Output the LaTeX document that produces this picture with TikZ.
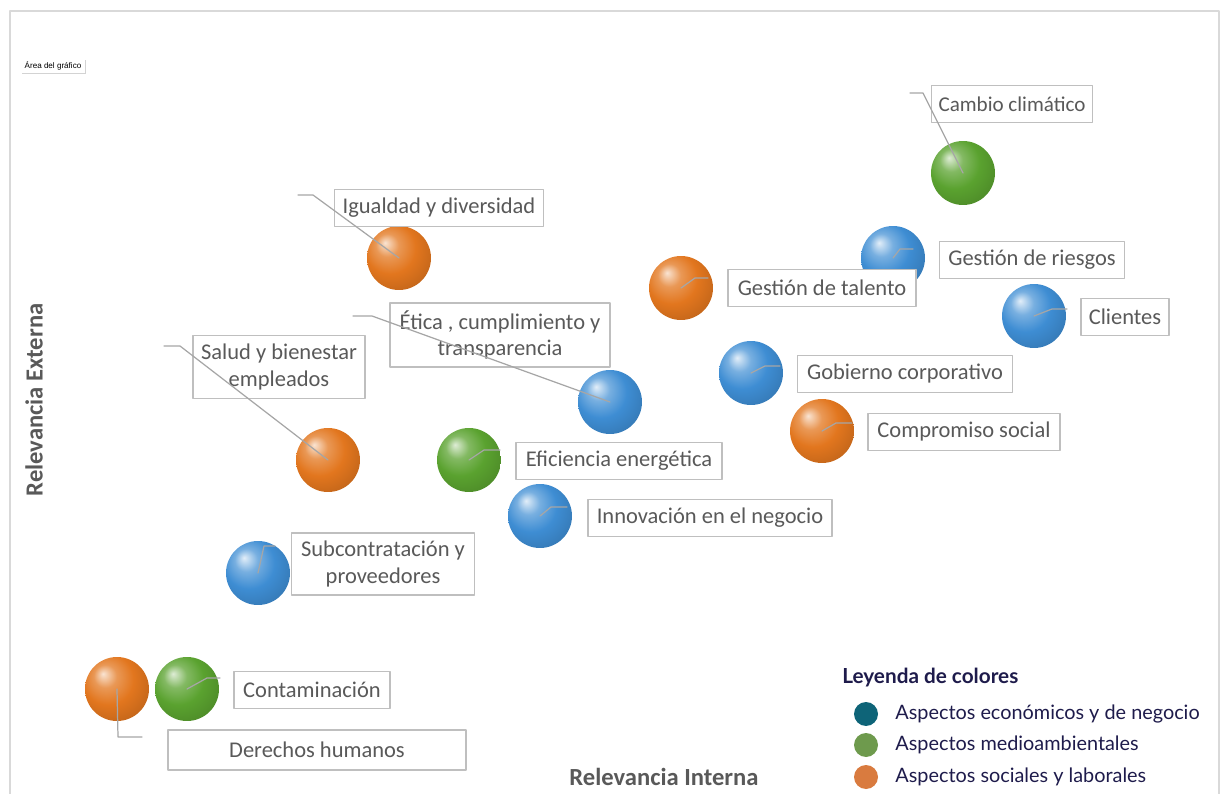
\documentclass[tikz,border=0pt]{standalone}
\usepackage{fontspec}
\setmainfont{Carlito}
\newfontfamily\leyfont{Lato}
\newfontfamily\tipfont{Liberation Sans}
\usepackage{tikz}
\usetikzlibrary{shadows}

\definecolor{naranja}{HTML}{E2761E}
\definecolor{verde}{HTML}{5AA22F}
\definecolor{azul}{HTML}{3E8DD3}
\definecolor{textogris}{HTML}{595959}
\definecolor{bordegris}{HTML}{BFBFBF}
\definecolor{lineagris}{HTML}{A6A6A6}
\definecolor{marino}{HTML}{1E1B4B}
\definecolor{leyazul}{HTML}{0E6478}
\definecolor{leyverde}{HTML}{6E9A4D}
\definecolor{leynaranja}{HTML}{D97B3F}

\pgfdeclareradialshading{bolanaranja}{\pgfpoint{-11bp}{12bp}}{color(0bp)=(naranja!20!white); color(9bp)=(naranja!75!white); color(20bp)=(naranja); color(34bp)=(naranja!85!black); color(55bp)=(naranja!55!black)}
\pgfdeclareradialshading{bolaverde}{\pgfpoint{-11bp}{12bp}}{color(0bp)=(verde!20!white); color(9bp)=(verde!75!white); color(20bp)=(verde); color(34bp)=(verde!85!black); color(55bp)=(verde!55!black)}
\pgfdeclareradialshading{bolaazul}{\pgfpoint{-11bp}{12bp}}{color(0bp)=(azul!15!white); color(9bp)=(azul!70!white); color(20bp)=(azul); color(34bp)=(azul!85!black); color(55bp)=(azul!55!black)}

\tikzset{
  esfera/.style={circle,minimum size=1.28cm,inner sep=0pt},
  naranjaball/.style={esfera,shading=bolanaranja},
  verdeball/.style={esfera,shading=bolaverde},
  azulball/.style={esfera,shading=bolaazul},
  etiqueta/.style={draw=bordegris,line width=0.6pt,fill=white,text=textogris,
    font=\fontsize{12.8}{15.2}\selectfont,align=center,inner ysep=0pt,inner xsep=4pt,
    minimum height=0.74cm,minimum width=#1*0.02cm},
  guia/.style={draw=lineagris,line width=0.7pt},
  eje/.style={text=textogris,font=\fontsize{14}{16}\selectfont\bfseries},
  leypunto/.style={circle,minimum size=0.48cm,inner sep=0pt},
  leytexto/.style={anchor=west,text=marino,font=\leyfont\fontsize{11.3}{13}\selectfont,inner sep=0pt}
}

\begin{document}
\begin{tikzpicture}[line cap=round,line join=round,x=0.02cm,y=-0.02cm]
\useasboundingbox (0,0) rectangle (1225,794);
\clip (0,0) rectangle (1225,794);
\draw[color=black!15,line width=1pt] (10,11) rectangle (1219,812);
\node[fill=white,drop shadow={opacity=0.35,shadow xshift=0.4pt,shadow yshift=-0.6pt},inner xsep=2pt,inner ysep=1.5pt,font=\tipfont\fontsize{4.6}{5}\selectfont] (tip) at (53,66) {Área del gráfico};
%% ejes
\node[eje,rotate=90] (ejey) at (34,400) {Relevancia Externa};
\node[eje] (ejex) at (664,777) {Relevancia Interna};
%% esferas
\node[verdeball] (cambio) at (963,173) {};
\node[naranjaball] (igual) at (399,258) {};
\node[azulball] (riesgos) at (893,258) {};
\node[naranjaball] (talento) at (681,288) {};
\node[azulball] (clientes) at (1034,316) {};
\node[azulball] (etica) at (610,402) {};
\node[azulball] (gobierno) at (751,373) {};
\node[naranjaball] (compromiso) at (822,431) {};
\node[naranjaball] (salud) at (328,460) {};
\node[verdeball] (eficiencia) at (469,460) {};
\node[azulball] (innovacion) at (540,516) {};
\node[azulball] (subcon) at (258,573) {};
\node[naranjaball] (derechos) at (117,689) {};
\node[verdeball] (contam) at (187,689) {};
%% etiquetas
\node[etiqueta=147,font=\fontsize{12}{14}\selectfont] (lcambio) at (1012,104) {Cambio climático};
\node[etiqueta=209] (ligual) at (439,208) {Igualdad y diversidad};
\node[etiqueta=185] (lriesgos) at (1032,260) {Gestión de riesgos};
\node[etiqueta=188] (ltalento) at (822,288) {Gestión de talento};
\node[etiqueta=88] (lclientes) at (1125,317) {Clientes};
\node[etiqueta=220,minimum height=1.28cm] (letica) at (500,335) {Ética , cumplimiento y\\transparencia};
\node[etiqueta=172,minimum height=1.26cm] (lsalud) at (279,367) {Salud y bienestar\\empleados};
\node[etiqueta=215] (lgobierno) at (905,374) {Gobierno corporativo};
\node[etiqueta=192] (lcompromiso) at (964,432) {Compromiso social};
\node[etiqueta=206] (leficiencia) at (619,461) {Eficiencia energética};
\node[etiqueta=244] (linnovacion) at (710,518) {Innovación en el negocio};
\node[etiqueta=183,minimum height=1.24cm] (lsubcon) at (383,564) {Subcontratación y\\proveedores};
\node[etiqueta=156] (lcontam) at (312,690) {Contaminación};
\node[etiqueta=298,minimum height=0.8cm] (lderechos) at (317,750) {Derechos humanos};
%% lineas guia
\coordinate (gcambio) at (910,93);
\coordinate (gigual) at (298,195);
\coordinate (griesgos) at (913,249);
\coordinate (gtalento) at (708,278);
\coordinate (gclientes) at (1067,309);
\coordinate (getica) at (353,316);
\coordinate (gsalud) at (164,346);
\coordinate (ggobierno) at (780,366);
\coordinate (gcompromiso) at (852,423);
\coordinate (geficiencia) at (500,450);
\coordinate (ginnovacion) at (567,507);
\coordinate (gsubcon) at (275,546);
\coordinate (gcontam) at (220,678);
\coordinate (gderechos) at (142,737);
\draw[guia] (cambio.center) -- (923,93) -- (gcambio);
\draw[guia] (igual.center) -- (313,195) -- (gigual);
\draw[guia] (riesgos.center) -- (900,249) -- (griesgos);
\draw[guia] (talento.center) -- (695,278) -- (gtalento);
\draw[guia] (clientes.center) -- (1052,309) -- (gclientes);
\draw[guia] (etica.center) -- (372,316) -- (getica);
\draw[guia] (salud.center) -- (180,346) -- (gsalud);
\draw[guia] (gobierno.center) -- (765,366) -- (ggobierno);
\draw[guia] (compromiso.center) -- (836,423) -- (gcompromiso);
\draw[guia] (eficiencia.center) -- (484,450) -- (geficiencia);
\draw[guia] (innovacion.center) -- (551,507) -- (ginnovacion);
\draw[guia] (subcon.center) -- (264,546) -- (gsubcon);
\draw[guia] (contam.center) -- (207,678) -- (gcontam);
\draw[guia] (derechos.center) -- (118,737) -- (gderechos);
%% leyenda
\node[anchor=west,text=marino,inner sep=0pt,font=\leyfont\fontsize{11.8}{13}\selectfont\bfseries] (leytitulo) at (842,678) {Leyenda de colores};
\node[leypunto,fill=leyazul] (pazul) at (866,714) {};
\node[leypunto,fill=leyverde] (pverde) at (866,745) {};
\node[leypunto,fill=leynaranja] (pnaranja) at (866,777) {};
\node[leytexto] (tazul) at (895,714) {Aspectos económicos y de negocio};
\node[leytexto] (tverde) at (895,745) {Aspectos medioambientales};
\node[leytexto] (tnaranja) at (895,777) {Aspectos sociales y laborales};
\end{tikzpicture}
\end{document}
